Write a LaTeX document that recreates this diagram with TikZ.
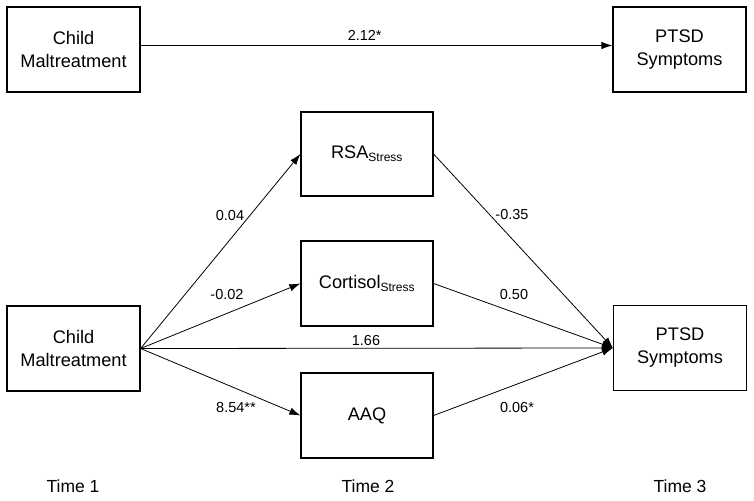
\documentclass[tikz,border=0pt]{standalone}
\usepackage{fontspec}
\setmainfont{Liberation Sans}
\usetikzlibrary{arrows.meta}
\begin{document}
\begin{tikzpicture}[x=1pt,y=-1pt,
  box/.style={draw, line width=1.2pt, minimum width=133pt, minimum height=85pt, align=center, font=\fontsize{18.2}{23}\selectfont, inner sep=0pt},
  arr/.style={line width=0.8pt, -{Latex[length=11pt,width=7.5pt]}},
  lab/.style={font=\fontsize{14.5}{17}\selectfont},
  tlab/.style={font=\fontsize{17.5}{20}\selectfont}]
\useasboundingbox (0,0) rectangle (754,500);
\node[box] (cm1) at (73.5,49.5) {Child\\Maltreatment};
\node[box] (pt1) at (679.5,49.5) {PTSD\\Symptoms};
\draw[arr] ([yshift=4pt]cm1.east) -- node[lab, above=1pt, pos=0.475] {2.12*} ([yshift=4pt]pt1.west);

\node[box] (cm2) at (73.5,348.5) {Child\\Maltreatment};
\node[box] (pt2) at (680,348) {PTSD\\Symptoms};
\node[box, minimum width=132pt, minimum height=84pt] (rsa) at (367,154) {RSA\textsubscript{\fontsize{12}{14}\selectfont Stress}};
\node[box, minimum width=132pt] (cor) at (367,283.5) {Cortisol\textsubscript{\fontsize{12}{14}\selectfont Stress}};
\node[box, minimum width=132pt] (aaq) at (367,415.5) {AAQ};

\draw[arr] (cm2.east) -- (rsa.west);
\draw[arr] (cm2.east) -- (cor.west);
\draw[arr] (cm2.east) -- (aaq.west);
\draw[arr] (cm2.east) -- (pt2.west);
\draw[arr] (rsa.east) -- (pt2.west);
\draw[arr] (cor.east) -- (pt2.west);
\draw[arr] (aaq.east) -- (pt2.west);

\node[lab] (l1) at (230,216) {0.04};
\node[lab] (l2) at (227,295) {-0.02};
\node[lab] (l3) at (236,408) {8.54**};
\node[lab] (l4) at (512,215) {-0.35};
\node[lab] (l5) at (514,295) {0.50};
\node[lab] (l6) at (366,341) {1.66};
\node[lab] (l7) at (517,408) {0.06*};

\node[tlab] (t1) at (73,486) {Time 1};
\node[tlab] (t2) at (368,486) {Time 2};
\node[tlab] (t3) at (680,486) {Time 3};
\end{tikzpicture}
\end{document}
